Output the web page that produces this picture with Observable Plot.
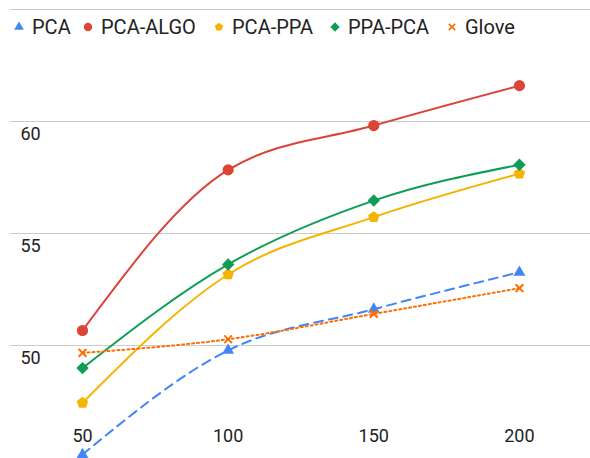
<!DOCTYPE html>
<html><head><meta charset="utf-8">
<script src="https://cdn.jsdelivr.net/npm/d3@7"></script>
<script src="https://cdn.jsdelivr.net/npm/@observablehq/plot@0.6"></script>
<style>
body{margin:0;background:#fff;font-family:Roboto,"Noto Sans",sans-serif;}
#wrap{position:relative;width:590px;height:458px;}
#legend{position:absolute;left:0;top:14px;height:26px;width:590px;font-size:20px;color:#222;}
#legend .it{display:flex;align-items:center;white-space:nowrap;height:26px;}
#legend svg{display:block;}
</style></head>
<body><div id="wrap"><div id="legend"></div></div>
<script>
const dims = [50, 100, 150, 200];
const series = ["PCA", "PCA-ALGO", "PCA-PPA", "PPA-PCA", "Glove"];
const pca      = [45.13, 49.78, 51.62, 53.27];
const pcaAlgo  = [50.67, 57.84, 59.82, 61.6];
const pcaPpa   = [47.44, 53.17, 55.73, 57.67];
const ppaPca   = [48.99, 53.62, 56.47, 58.07];
const glove    = [49.67, 50.28, 51.41, 52.56];
const yTicks = [50, 55, 60];
const gridLines = [50, 55, 60, 65];

const colors = ["#4285F4", "#DB4437", "#F4B400", "#0F9D58", "#FF6D00"];
const pentagon = {
  draw(ctx, size) {
    const r = Math.sqrt(size / Math.PI) * 1.15;
    for (let i = 0; i < 5; i++) {
      const a = -Math.PI / 2 + i * 2 * Math.PI / 5;
      const px = r * Math.cos(a), py = r * Math.sin(a);
      if (i === 0) ctx.moveTo(px, py); else ctx.lineTo(px, py);
    }
    ctx.closePath();
  }
};
const symbols = ["triangle", "circle", pentagon, "diamond2", "times"];
const values = [pca, pcaAlgo, pcaPpa, ppaPca, glove];
const rows = series.flatMap((s, i) => dims.map((d, j) => ({series: s, idx: i, dim: d, v: values[i][j]})));
const bySeries = i => rows.filter(r => r.idx === i);

const lineStyle = [
  {strokeDasharray: "9,6", curve: "monotone-x"},
  {curve: "monotone-x"},
  {curve: "monotone-x"},
  {curve: "monotone-x"},
  {strokeDasharray: "2,3", curve: "monotone-x"}
];
const radius = [4.4, 5.6, 5.2, 5.6, 3.6];

const marks = [
  Plot.ruleY(gridLines, {stroke: "#ccc", strokeWidth: 1}),
  Plot.text(yTicks, {y: d => d, text: d => String(d), frameAnchor: "left", textAnchor: "start", dx: 10, dy: 13, fontSize: 18, fill: "#222"}),
  Plot.text(dims, {x: d => d, text: d => String(d), frameAnchor: "bottom", dy: -16, fontSize: 18, fill: "#222"})
];
series.forEach((s, i) => {
  marks.push(Plot.line(bySeries(i), {x: "dim", y: "v", stroke: colors[i], strokeWidth: 2, ...lineStyle[i]}));
});
series.forEach((s, i) => {
  const isTimes = symbols[i] === "times";
  marks.push(Plot.dot(bySeries(i), {x: "dim", y: "v", symbol: () => symbols[i], r: radius[i],
    fill: isTimes ? "none" : colors[i], stroke: isTimes ? colors[i] : "none", strokeWidth: isTimes ? 2 : 0}));
});

const chart = Plot.plot({
  width: 590, height: 458,
  marginLeft: 10, marginRight: 0, marginTop: 9, marginBottom: 1,
  x: {domain: [25.28, 224.4], axis: null},
  y: {domain: [45, 65], axis: null},
  symbol: {type: "identity"},
  style: {fontFamily: "Roboto, sans-serif", background: "white"},
  marks
});
document.getElementById("wrap").appendChild(chart);

// legend
const leg = document.getElementById("legend");
const legX = [19, 88, 219, 335, 452];
series.forEach((s, i) => {
  const it = document.createElement("div");
  it.className = "it";
  it.style.position = "absolute";
  it.style.top = "0px";
  it.style.left = (legX[i] - 6) + "px";
  const sv = d3.create("svg").attr("width", 12).attr("height", 12);
  const sym = typeof symbols[i] === "string" ? {triangle: d3.symbolTriangle, circle: d3.symbolCircle, diamond2: d3.symbolDiamond2, times: d3.symbolTimes}[symbols[i]] : symbols[i];
  const rr = [3.6, 4.2, 3.8, 4.2, 3][i];
  const isTimes = symbols[i] === "times";
  sv.append("path").attr("transform", "translate(6,6)")
    .attr("d", d3.symbol(sym, rr * rr * Math.PI)())
    .attr("fill", isTimes ? "none" : colors[i]).attr("stroke", isTimes ? colors[i] : "none").attr("stroke-width", 1.6);
  it.appendChild(sv.node());
  const t = document.createElement("span");
  t.textContent = s;
  t.style.marginLeft = "7px";
  it.appendChild(t);
  leg.appendChild(it);
});
</script></body></html>
